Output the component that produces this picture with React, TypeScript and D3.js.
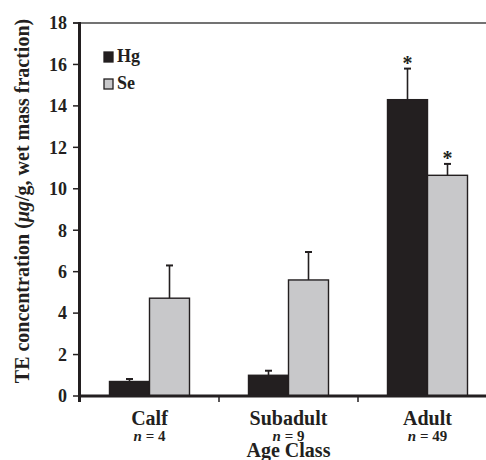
import React from "react";
import * as d3 from "d3";

const categories = ["Calf", "Subadult", "Adult"];
const sampleSizes = ["4", "9", "49"];
const series = ["Hg", "Se"];
const hgMeans = [0.7, 1.0, 14.3];
const hgErrTop = [0.82, 1.22, 15.8];
const seMeans = [4.72, 5.6, 10.65];
const seErrTop = [6.3, 6.95, 11.2];
const significant = [
  [false, false],
  [false, false],
  [true, true],
];
const yTicks = [0, 2, 4, 6, 8, 10, 12, 14, 16, 18];

const W = 486;
const H = 460;
const INK = "#231f20";
const GREY = "#c8c8ca";
const FONT = "'Liberation Serif', 'Times New Roman', serif";

export default function App() {
  const y = d3.scaleLinear().domain([0, 18]).range([396, 23]);
  const x0 = d3.scaleBand<string>().domain(categories).range([80, 497]).padding(0);
  const bw = x0.bandwidth();
  const x1 = d3
    .scaleBand<string>()
    .domain(series)
    .range([(bw - 80) / 2, (bw + 80) / 2])
    .padding(0);

  const means = [hgMeans, seMeans];
  const errs = [hgErrTop, seErrTop];
  const fills = [INK, GREY];

  return (
    <svg
      width={W}
      height={H}
      style={{ position: "absolute", left: 0, top: 0, background: "#fff" }}
      fontFamily={FONT}
    >
      {/* top frame line */}
      <line x1={73} x2={W} y1={y(18)} y2={y(18)} stroke="#444" strokeWidth={1.5} />

      {/* bars */}
      {categories.map((c, ci) =>
        series.map((s, si) => {
          const bx = (x0(c) as number) + (x1(s) as number);
          const v = means[si][ci];
          const e = errs[si][ci];
          const cx = bx + x1.bandwidth() / 2;
          return (
            <g key={c + s}>
              <line x1={cx} x2={cx} y1={y(v)} y2={y(e)} stroke={INK} strokeWidth={1.6} />
              <line x1={cx - 3.5} x2={cx + 3.5} y1={y(e)} y2={y(e)} stroke={INK} strokeWidth={2} />
              <rect
                x={bx}
                y={y(v)}
                width={x1.bandwidth()}
                height={y(0) - y(v)}
                fill={fills[si]}
                stroke={INK}
                strokeWidth={1.4}
              />
              {significant[ci][si] && (
                <text x={cx} y={y(e) + 1} textAnchor="middle" fontSize={20} fontWeight="bold" fill={INK}>
                  *
                </text>
              )}
            </g>
          );
        })
      )}

      {/* y axis */}
      <line x1={79.5} x2={79.5} y1={y(18) - 1} y2={y(0) + 6} stroke={INK} strokeWidth={3} />
      {yTicks.map((t) => (
        <g key={t}>
          <line x1={73} x2={80} y1={y(t)} y2={y(t)} stroke={INK} strokeWidth={1.5} />
          <text
            x={67}
            y={y(t)}
            dy="0.35em"
            textAnchor="end"
            fontSize={18}
            fontWeight="bold"
            fill={INK}
          >
            {t}
          </text>
        </g>
      ))}

      {/* x axis */}
      <line x1={78} x2={W} y1={y(0)} y2={y(0)} stroke={INK} strokeWidth={3} />
      {categories.slice(1).map((c) => (
        <line
          key={c}
          x1={x0(c) as number}
          x2={x0(c) as number}
          y1={y(0)}
          y2={y(0) + 6}
          stroke={INK}
          strokeWidth={1.5}
        />
      ))}

      {/* category labels */}
      {categories.map((c, i) => {
        const cx = (x0(c) as number) + bw / 2;
        return (
          <g key={c}>
            <text x={cx} y={425} textAnchor="middle" fontSize={20} fontWeight="bold" fill={INK}>
              {c}
            </text>
            <text x={cx} y={441} textAnchor="middle" fontSize={15} fontWeight="bold" fill={INK}>
              <tspan fontStyle="italic">n</tspan> = {sampleSizes[i]}
            </text>
          </g>
        );
      })}
      <text
        x={(x0("Subadult") as number) + bw / 2}
        y={457}
        textAnchor="middle"
        fontSize={20}
        fontWeight="bold"
        fill={INK}
      >
        Age Class
      </text>

      {/* y label */}
      <text
        transform={`translate(29, 201) rotate(-90)`}
        textAnchor="middle"
        fontSize={20}
        fontWeight="bold"
        fill={INK}
      >
        TE concentration (<tspan fontStyle="italic">μg</tspan>/g, wet mass fraction)
      </text>

      {/* legend */}
      {series.map((s, i) => (
        <g key={s} transform={`translate(104, ${52 + i * 27})`}>
          <rect x={0} y={0} width={9} height={10} fill={fills[i]} stroke={INK} strokeWidth={1.3} />
          <text x={13} y={10} fontSize={18} fontWeight="bold" fill={INK}>
            {s}
          </text>
        </g>
      ))}
    </svg>
  );
}
